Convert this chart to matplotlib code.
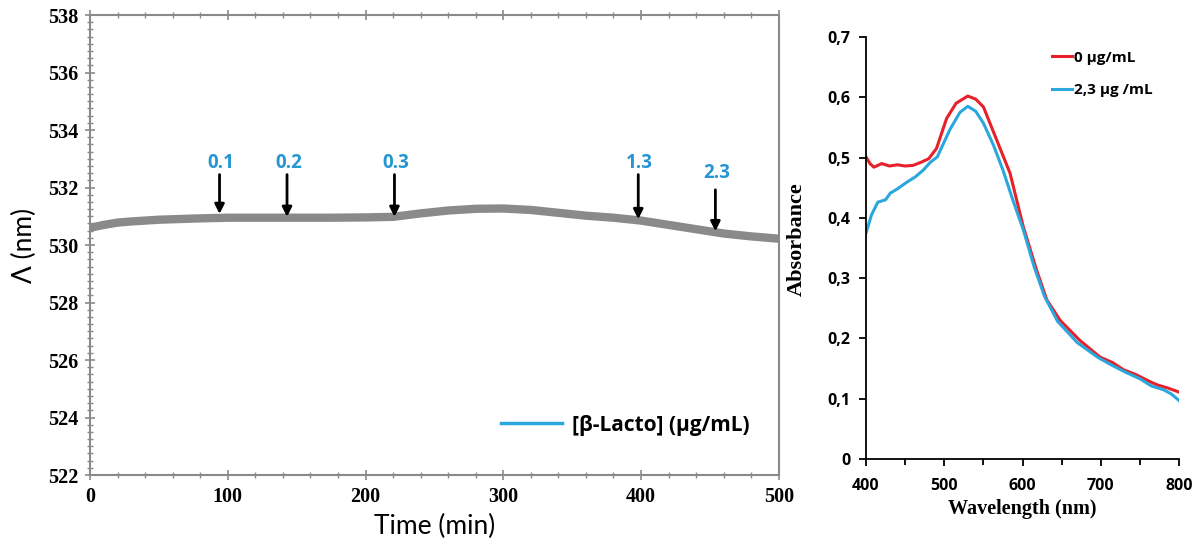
"""Сдвиг плазмонного пика и спектры поглощения."""

import matplotlib

matplotlib.use("Agg")
import matplotlib.pyplot as plt
from matplotlib.ticker import MultipleLocator, FixedLocator

# --- левая панель: положение пика во времени ---
time_min = [0, 10, 20, 30, 50, 75, 100, 125, 150, 175, 200, 220, 240, 260,
            280, 300, 320, 340, 360, 380, 400, 420, 440, 460, 480, 500]
peak_nm = [530.60, 530.70, 530.78, 530.82, 530.88, 530.92, 530.95, 530.95,
           530.95, 530.95, 530.96, 530.98, 531.10, 531.20, 531.26, 531.27,
           531.22, 531.12, 531.02, 530.95, 530.85, 530.70, 530.55, 530.40,
           530.30, 530.22]

arrow_labels = ["0.1", "0.2", "0.3", "1.3", "2.3"]
arrow_time = [94, 143, 221, 398, 454]
arrow_tip = [531.08, 530.98, 530.98, 530.90, 530.48]
arrow_tail = [532.45, 532.45, 532.45, 532.45, 531.92]
label_y = [532.85, 532.85, 532.85, 532.85, 532.50]

# --- правая панель: спектры ---
wl_red = [400, 405, 410, 420, 430, 440, 450, 460, 470, 480, 490, 503, 515,
          530, 540, 550, 567, 584, 601, 618, 631, 648, 673, 699, 715, 729,
          745, 754, 765, 772, 785, 800]
abs_red = [0.501, 0.490, 0.484, 0.490, 0.486, 0.488, 0.486, 0.487, 0.492,
           0.498, 0.515, 0.565, 0.590, 0.602, 0.597, 0.584, 0.529, 0.474,
           0.385, 0.313, 0.264, 0.230, 0.197, 0.169, 0.160, 0.148, 0.140,
           0.134, 0.127, 0.123, 0.118, 0.111]

wl_blue = [400, 407, 415, 425, 431, 440, 452, 463, 473, 482, 491, 507, 520,
           530, 540, 550, 563, 575, 588, 601, 615, 628, 645, 670, 697, 715,
           730, 750, 765, 780, 790, 800]
abs_blue = [0.375, 0.405, 0.426, 0.430, 0.441, 0.448, 0.459, 0.468, 0.479,
            0.492, 0.501, 0.546, 0.575, 0.585, 0.577, 0.557, 0.520, 0.479,
            0.428, 0.380, 0.318, 0.270, 0.228, 0.193, 0.168, 0.155, 0.145,
            0.133, 0.121, 0.115, 0.108, 0.097]

red_name = "0 µg/mL"
blue_name = "2,3 µg /mL"

SANS = ["Lato", "DejaVu Sans"]
BOLD_SANS = ["Open Sans", "DejaVu Sans"]
SERIF = ["Liberation Serif", "DejaVu Serif"]
BLUE = "#2aa7dd"
LABEL_BLUE = "#2596d2"
RED = "#e8202a"
GREY = "#8a8a8a"

fig = plt.figure(figsize=(12.04, 5.46), dpi=100)

# ---------- левая панель ----------
ax = fig.add_axes([0.0748, 0.130, 0.572, 0.8425])
ax.plot(time_min, peak_nm, color=GREY, lw=6, solid_capstyle="butt")
ax.set_xlim(0, 500)
ax.set_ylim(522, 538)
ax.xaxis.set_major_locator(MultipleLocator(100))
ax.xaxis.set_minor_locator(MultipleLocator(20))
ax.yaxis.set_major_locator(MultipleLocator(2))
ax.yaxis.set_minor_locator(MultipleLocator(0.25))
for side in ax.spines.values():
    side.set_color(GREY)
    side.set_linewidth(1.5)
ax.tick_params(axis="both", which="both", colors=GREY, top=True,
               direction="inout")
ax.tick_params(which="major", length=7, width=1.2)
ax.tick_params(which="minor", length=4, width=1)
ax.tick_params(axis="both", labelcolor="black", pad=5)
for lbl in ax.get_xticklabels() + ax.get_yticklabels():
    lbl.set_fontfamily(SERIF)
    lbl.set_fontweight("bold")
    lbl.set_fontsize(14.5)
ax.set_xlabel("Time (min)", family=SANS, fontsize=19, labelpad=5)
ax.set_ylabel("Λ (nm)", family=SANS, fontsize=19, labelpad=8)

for text, t, tip, tail, ly in zip(arrow_labels, arrow_time, arrow_tip,
                                  arrow_tail, label_y):
    ax.annotate("", xy=(t, tip), xytext=(t, tail),
                arrowprops=dict(arrowstyle="-|>", color="black", lw=2,
                                mutation_scale=14, shrinkA=0, shrinkB=0))
    ax.text(t + 1, ly, text, color=LABEL_BLUE, family=BOLD_SANS,
            fontweight="bold", fontsize=13.5, ha="center", va="center")

leg = ax.legend([plt.Line2D([], [], color=BLUE, lw=2.5)],
                ["[β-Lacto] (µg/mL)"], loc="lower right",
                bbox_to_anchor=(0.985, 0.045), frameon=False,
                handlelength=2.9, handletextpad=0.5,
                prop=dict(family=BOLD_SANS, weight="bold", size=15))

# ---------- правая панель ----------
ax2 = fig.add_axes([0.7193, 0.1593, 0.260, 0.773])
ax2.plot(wl_red, abs_red, color=RED, lw=2.2, label=red_name)
ax2.plot(wl_blue, abs_blue, color=BLUE, lw=2.2, label=blue_name)
ax2.set_xlim(400, 800)
ax2.set_ylim(0, 0.7)
ax2.xaxis.set_major_locator(MultipleLocator(100))
ax2.xaxis.set_minor_locator(MultipleLocator(50))
ax2.yaxis.set_major_locator(FixedLocator([0, 0.1, 0.2, 0.3, 0.4, 0.5, 0.6,
                                          0.7]))
ax2.set_yticklabels(["0", "0,1", "0,2", "0,3", "0,4", "0,5", "0,6", "0,7"])
ax2.spines["top"].set_visible(False)
ax2.spines["right"].set_visible(False)
for side in ("left", "bottom"):
    ax2.spines[side].set_linewidth(1.3)
ax2.tick_params(which="major", direction="out", length=5, width=1.3)
ax2.tick_params(which="minor", direction="out", length=4, width=1.3)
ax2.tick_params(axis="x", pad=9)
ax2.tick_params(axis="y", pad=6)
for lbl in ax2.get_xticklabels() + ax2.get_yticklabels():
    lbl.set_fontfamily(BOLD_SANS)
    lbl.set_fontweight("bold")
    lbl.set_fontsize(11.5)
ax2.set_xlabel("Wavelength (nm)", family=SERIF, fontweight="bold",
               fontsize=14.5, labelpad=3)
ax2.set_ylabel("Absorbance", family=SERIF, fontweight="bold", fontsize=16)
ax2.yaxis.set_label_coords(-0.19, 0.52)
ax2.legend(loc="upper left", bbox_to_anchor=(0.55, 1.0), frameon=False,
           handlelength=1.3, handletextpad=0.15, labelspacing=1.2,
           prop=dict(family=BOLD_SANS, weight="bold", size=11))

fig.savefig("out.png", dpi=100)
